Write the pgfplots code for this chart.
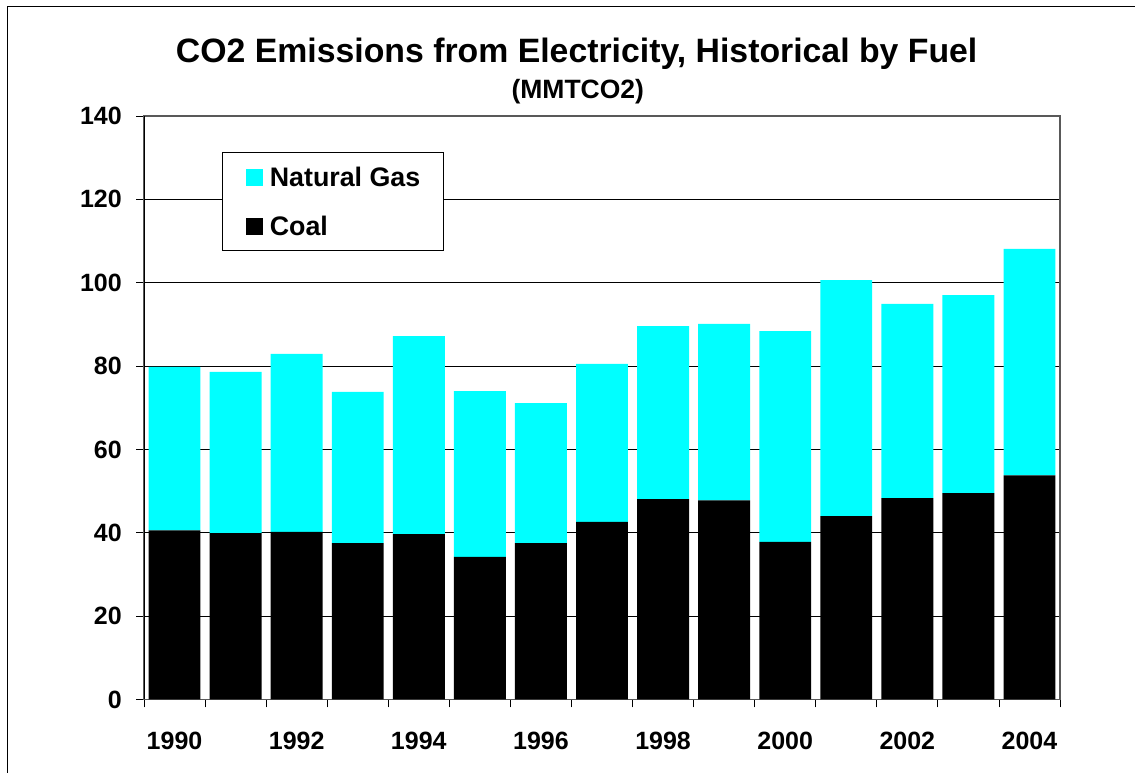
\documentclass[border=0pt]{standalone}
\usepackage{fontspec}
\setmainfont{Liberation Sans}
\usepackage{pgfplots}
\pgfplotsset{compat=1.18}
\usepackage{pgfplotstable}

\definecolor{gasaqua}{RGB}{0,255,255}

% CO2 emissions by fuel (MMTCO2)
\pgfplotstableread{
idx year coal gas
0  1990 40.6 39.2
1  1991 39.9 38.7
2  1992 40.2 42.7
3  1993 37.5 36.3
4  1994 39.7 47.5
5  1995 34.2 39.8
6  1996 37.5 33.6
7  1997 42.6 37.9
8  1998 48.1 41.5
9  1999 47.8 42.3
10 2000 37.8 50.6
11 2001 44.0 56.6
12 2002 48.3 46.6
13 2003 49.5 47.5
14 2004 53.8 54.3
}\emissions

\begin{document}
\begin{tikzpicture}
\useasboundingbox (0,0) rectangle (1135pt,773pt);
% outer chart frame
\draw[black, line width=1pt] (7pt,-2pt) -- (7pt,766pt) -- (1137pt,766pt);

\begin{axis}[
  at={(144pt,73.5pt)}, anchor=south west,
  scale only axis, width=916pt, height=583.5pt,
  ybar stacked, bar width=0.85,
  xmin=-0.5, xmax=14.5, ymin=0, ymax=140,
  ytick={0,20,...,140},
  xtick={0,2,...,14},
  xticklabels={1990,1992,1994,1996,1998,2000,2002,2004},
  minor xtick={-0.5,0.5,...,14.5},
  tick pos=left,
  tick align=outside,
  major tick length=8pt, minor tick length=8pt,
  x tick style={draw=none},
  minor x tick style={draw=black, line width=0.8pt},
  y tick style={black, line width=0.8pt},
  ymajorgrids, grid style={black, line width=0.9pt},
  axis line style={gray!70!black, line width=1.2pt},
  /pgf/number format/assume math mode=true,
  ticklabel style={font=\fontsize{25}{30}\selectfont\bfseries, inner sep=0pt},
  yticklabel style={anchor=east, xshift=-14pt},
  xticklabel style={anchor=base, yshift=-42pt},
  reverse legend,
  legend style={at={(0.0855,0.9385)}, anchor=north west,
    draw=black, line width=0.9pt, fill=white,
    inner xsep=23pt, inner ysep=15pt, row sep=30pt,
    column sep=6.5pt,
    font=\fontsize{26.8}{30}\selectfont\bfseries,
    nodes={inner sep=0pt, text height=19pt, text depth=0pt, anchor=base west}},
  legend cell align=left,
  legend image code/.code={\fill[#1] (0pt,0pt) rectangle (17.6pt,17.2pt);},
]
\addplot[fill=black, draw=none] table[x=idx, y=coal] {\emissions};
\addlegendentry{Coal}
\addplot[fill=gasaqua, draw=none] table[x=idx, y=gas] {\emissions};
\addlegendentry{Natural Gas}
\draw[black, line width=1pt] (rel axis cs:0,0) -- (rel axis cs:0,1);
\end{axis}

\node[anchor=base, inner sep=0pt, font=\fontsize{33.8}{38}\selectfont\bfseries]
  at (576.7pt,710.3pt) {CO2 Emissions from Electricity, Historical by Fuel};
\node[anchor=base, inner sep=0pt, font=\fontsize{26.5}{30}\selectfont\bfseries]
  at (577.8pt,674pt) {(MMTCO2)};
\end{tikzpicture}
\end{document}
